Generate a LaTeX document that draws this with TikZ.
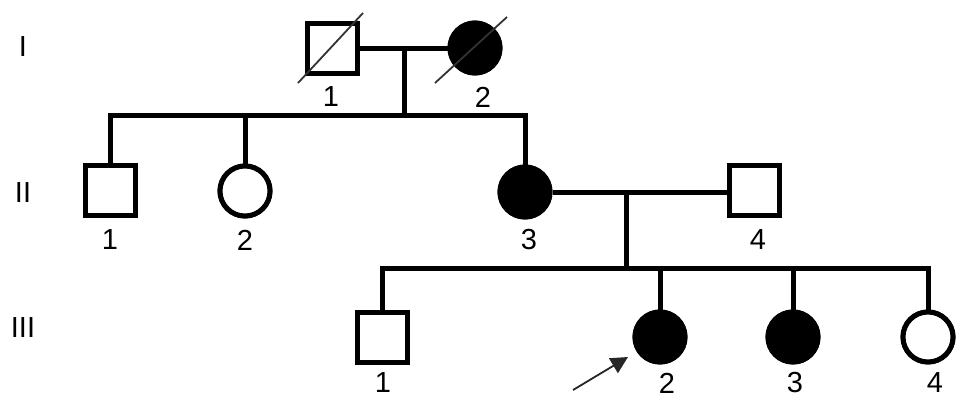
\documentclass[tikz,border=0pt]{standalone}
\usepackage{fontspec}
\setmainfont{Liberation Sans}
\usetikzlibrary{arrows.meta,calc}
\begin{document}
\begin{tikzpicture}[x=1pt,y=-1pt,
  male/.style={draw,rectangle,line width=5pt,minimum size=50pt,inner sep=0pt,fill=white},
  female/.style={draw,circle,line width=5pt,minimum size=50pt,inner sep=0pt,fill=white},
  affected/.style={fill=black},
  conn/.style={line width=5pt,line join=miter},
  slash/.style={line width=1.8pt,draw=black!80},
  lbl/.style={font=\fontsize{29}{34}\selectfont,inner sep=0pt,anchor=center},
  gen/.style={font=\fontsize{29}{34}\selectfont,inner sep=0pt,anchor=center}]
\useasboundingbox (0,0) rectangle (969,410);
% generation labels
\node[gen] (gI) at (23,47) {I};
\node[gen] (gII) at (23,193) {II};
\node[gen] (gIII) at (23,328) {III};
% coordinates for junctions
\coordinate (sib1) at (404,115);
\coordinate (sib2) at (626,268);
% generation I
\node[male] (I1) at (332,48) {};
\node[female,affected] (I2) at (475,48) {};
% generation II
\node[male] (II1) at (110,190) {};
\node[female] (II2) at (245,191) {};
\node[female,affected] (II3) at (525,192) {};
\node[male] (II4) at (754,190) {};
% generation III
\node[male] (III1) at (382,337) {};
\node[female,affected] (III2) at (660,337) {};
\node[female,affected] (III3) at (793,337) {};
\node[female] (III4) at (928,337) {};
% connectors
\draw[conn] (I1.east) -- (I1.east -| I2.west);
\draw[conn] (I1.east -| sib1) -- (sib1);
\draw[conn] (II1.north) |- (sib1) -| (II3.north);
\draw[conn] (II2.north) -- (II2.north |- sib1);
\draw[conn] (II3.east) -- (II3.east -| II4.west);
\draw[conn] (II3.east -| sib2) -- (sib2);
\draw[conn] (III1.north) |- (sib2) -| (III4.north);
\draw[conn] (III2.north) -- (III2.north |- sib2);
\draw[conn] (III3.north) -- (III3.north |- sib2);
% redraw symbols over connectors
\node[male] at (I1) {};
\node[female,affected] at (I2) {};
\node[male] at (II1) {};
\node[female] at (II2) {};
\node[female,affected] at (II3) {};
\node[male] at (II4) {};
\node[male] at (III1) {};
\node[female,affected] at (III2) {};
\node[female,affected] at (III3) {};
\node[female] at (III4) {};
% deceased slashes
\draw[slash] ($(I1)+(-34,35)$) -- ($(I1)+(31,-35)$);
\draw[slash] ($(I2)+(-40,35)$) -- ($(I2)+(32,-31)$);
% proband arrow
\coordinate (arrtail) at (573,390);
\draw[line width=1.8pt,draw=black!85,-{Triangle[length=17pt,width=17pt]}] (arrtail) -- ($(III2)+(-32,20)$);
% labels
\node[lbl] (lI1) at (331,97) {1};
\node[lbl] (lI2) at (483,97) {2};
\node[lbl] (lII1) at (110,240) {1};
\node[lbl] (lII2) at (245,240) {2};
\node[lbl] (lII3) at (529,240) {3};
\node[lbl] (lII4) at (758,240) {4};
\node[lbl] (lIII1) at (383,383) {1};
\node[lbl] (lIII2) at (667,383) {2};
\node[lbl] (lIII3) at (795,383) {3};
\node[lbl] (lIII4) at (935,383) {4};
\end{tikzpicture}
\end{document}
